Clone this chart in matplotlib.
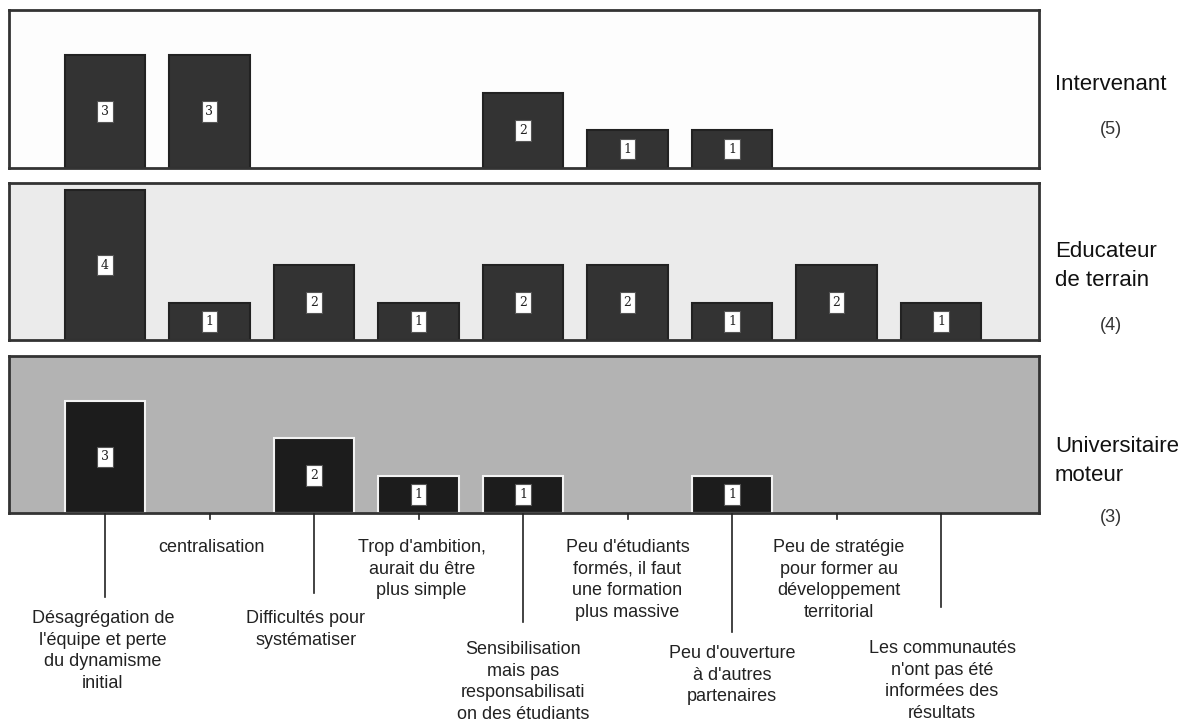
import numpy as np
import matplotlib.pyplot as plt

plt.rcParams['font.family'] = ['Liberation Sans', 'DejaVu Sans']

# categories (bottom labels), left to right
categories = [
    "Désagrégation de\nl'équipe et perte\ndu dynamisme\ninitial",
    "centralisation",
    "Difficultés pour\nsystématiser",
    "Trop d'ambition,\naurait du être\nplus simple",
    "Sensibilisation\nmais pas\nresponsabilisati\non des étudiants",
    "Peu d'étudiants\nformés, il faut\nune formation\nplus massive",
    "Peu d'ouverture\nà d'autres\npartenaires",
    "Peu de stratégie\npour former au\ndéveloppement\nterritorial",
    "Les communautés\nn'ont pas été\ninformées des\nrésultats",
]

groups = ["Intervenant", "Educateur\nde terrain", "Universitaire\nmoteur"]
group_n = [5, 4, 3]

intervenant = [3, 3, 0, 0, 2, 1, 1, 0, 0]
educateur = [4, 1, 2, 1, 2, 2, 1, 2, 1]
universitaire = [3, 0, 2, 1, 1, 0, 1, 0, 0]
series = [intervenant, educateur, universitaire]

W, H = 1192, 727
fig = plt.figure(figsize=(W / 100, H / 100), dpi=100)
fig.patch.set_facecolor('white')

def fy(y):
    return 1 - y / H

left, right = 9, 1039
xl = (left - 105) / 104.5
xr = (right - 105) / 104.5
x = np.arange(len(categories))

# panel geometry (pixel top, bottom) and styles
panels = [(10, 168), (183, 340), (356, 513)]
bg_colors = ['#fdfdfd', '#ebebeb', '#b3b3b3']
bar_colors = ['#333333', '#333333', '#1c1c1c']
bar_edges = ['#222222', '#222222', '#f2f2f2']
name_y = [85, 266, 461]
n_y = [130, 325, 518]

for k, vals in enumerate(series):
    top, bot = panels[k]
    ax = fig.add_axes([left / W, fy(bot), (right - left) / W, (bot - top) / H])
    ax.set_facecolor(bg_colors[k])
    v = np.array(vals)
    m = v > 0
    ax.bar(x[m], v[m], width=0.766, color=bar_colors[k],
           edgecolor=bar_edges[k], linewidth=1.5, zorder=2)
    for xi, vi in zip(x[m], v[m]):
        ax.text(xi, vi / 2, str(vi), ha='center', va='center', fontsize=9,
                family='DejaVu Serif', color='#222222', zorder=3,
                bbox=dict(boxstyle='square,pad=0.3', fc='white', ec='#555555', lw=0.8))
    ax.set_xlim(xl, xr)
    ax.set_ylim(0, 4.19)
    ax.set_xticks([])
    ax.set_yticks([])
    for s in ax.spines.values():
        s.set_linewidth(2)
        s.set_color('#333333')

    # group label on the right
    fig.text(1055 / W, fy(name_y[k]), groups[k], ha='left', va='center',
             fontsize=16, color='#111111', linespacing=1.55)
    fig.text(1111 / W, fy(n_y[k]), "(%d)" % group_n[k], ha='center', va='center',
             fontsize=13, color='#333333')

# category labels below the last panel
lab = fig.add_axes([left / W, 0, (right - left) / W, fy(513)])
lab.set_xlim(xl, xr)
lab.set_ylim(H, 513)
lab.axis('off')

line_end = [597, 519, 593, 519, 622, 519, 632, 519, 607]
text_y = [620, 549, 620, 549, 651, 549, 655, 549, 650]
text_dx = [-0.02, 0.02, -0.08, 0.03, 0, 0, 0, 0.02, 0.01]
for i, cat in enumerate(categories):
    lab.plot([i, i], [514, line_end[i]], color='#222222', lw=1.2)
    lab.text(i + text_dx[i], text_y[i] - 10, cat, ha='center', va='top',
             fontsize=13, color='#222222', linespacing=1.35)

fig.savefig('out.png', dpi=100, facecolor='white')
